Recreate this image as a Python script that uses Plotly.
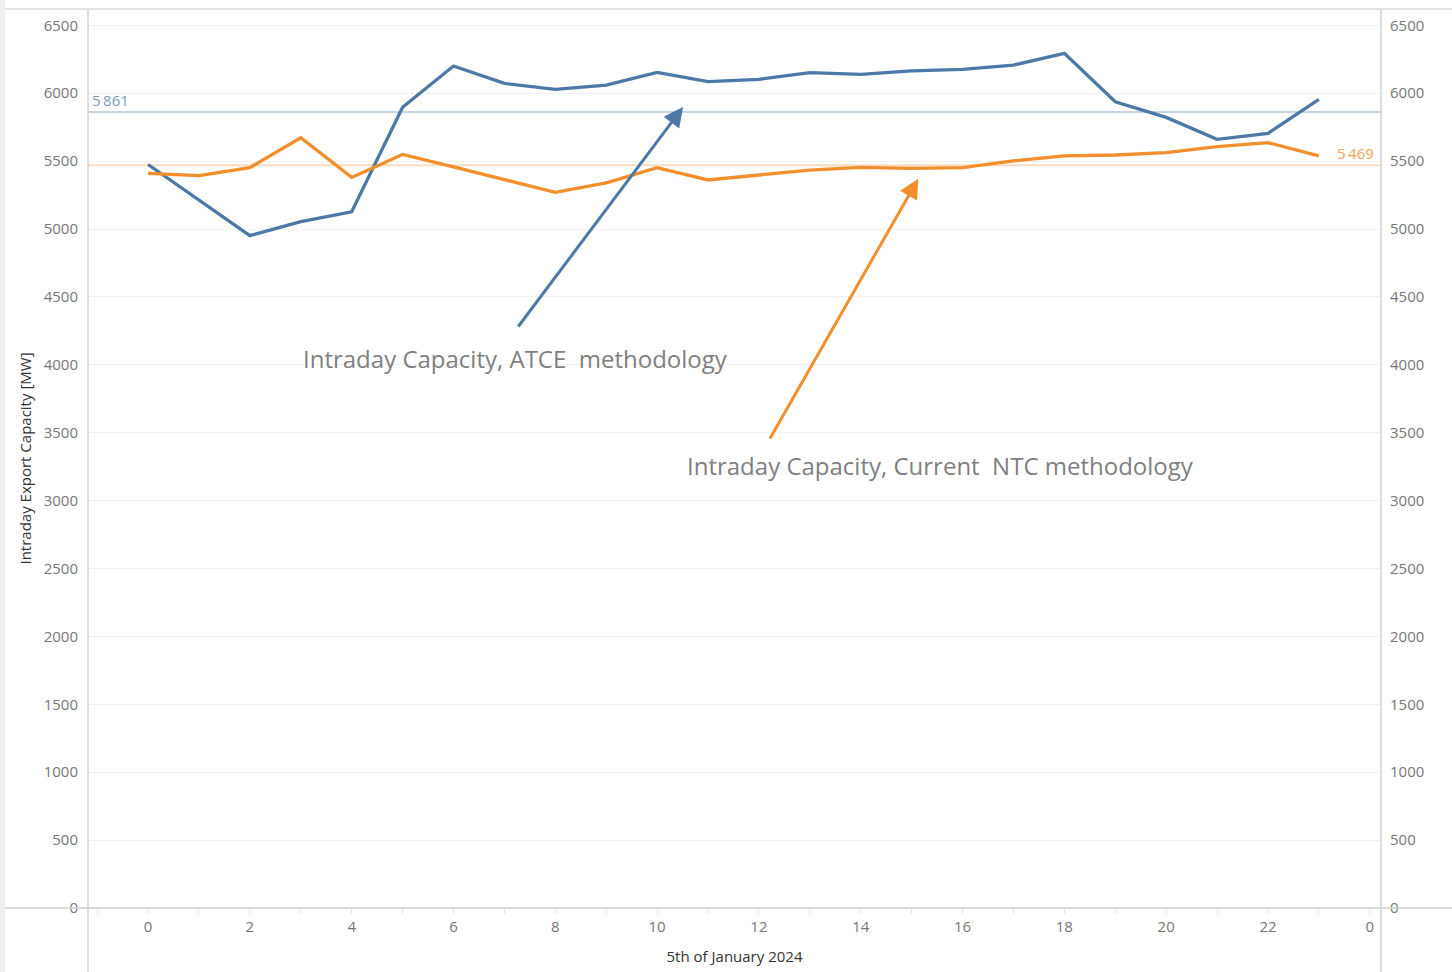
import plotly.graph_objects as go

hours = list(range(24))
atce = [5475, 5215, 4951, 5054, 5127, 5896, 6200, 6072, 6028, 6060, 6153, 6085,
        6102, 6151, 6138, 6165, 6175, 6207, 6293, 5937, 5822, 5660, 5704, 5955]
ntc = [5410, 5393, 5452, 5672, 5380, 5549, 5458, 5361, 5270, 5340, 5452, 5361,
       5398, 5434, 5454, 5446, 5452, 5501, 5538, 5545, 5562, 5606, 5636, 5538]
atce_avg = 5861
ntc_avg = 5469
x_tickvals = list(range(0, 25, 2))
x_ticktext = ["0", "2", "4", "6", "8", "10", "12", "14", "16", "18", "20", "22", "0"]
y_tickvals = list(range(0, 6501, 500))
y_ticktext = [str(v) for v in y_tickvals]

BLUE = "#4e79a7"
ORANGE = "#f28e2b"
TICKC = "#777777"
FONT = "Open Sans"

W, H = 1452, 972
ML, MR, MT, MB = 88, 71, 9, 64
PW, PH = W - ML - MR, H - MT - MB

def px(p):
    return (p - ML) / PW

def py(p):
    return (H - MB - p) / PH

fig = go.Figure()
fig.add_trace(go.Scatter(x=hours, y=atce, mode="lines", line=dict(color=BLUE, width=3.3),
                         name="ATCE", showlegend=False))
fig.add_trace(go.Scatter(x=hours, y=ntc, mode="lines", line=dict(color=ORANGE, width=3.3),
                         name="NTC", showlegend=False))
# invisible trace to activate right axis
fig.add_trace(go.Scatter(x=[hours[0]], y=[atce[0]], yaxis="y2", mode="markers",
                         marker=dict(opacity=0), showlegend=False, hoverinfo="skip"))

shapes = [
    # left gray strip
    dict(type="rect", xref="paper", yref="paper", x0=px(0), x1=px(5), y0=py(H), y1=py(0),
         fillcolor="#efefef", line=dict(width=0), layer="below"),
    # reference lines
    dict(type="line", xref="paper", yref="y", x0=0, x1=1, y0=atce_avg, y1=atce_avg,
         line=dict(color="#c6d4e4", width=2), layer="below"),
    dict(type="line", xref="paper", yref="y", x0=0, x1=1, y0=ntc_avg, y1=ntc_avg,
         line=dict(color="#fcdcbf", width=2), layer="below"),
    # frame lines
    dict(type="line", xref="paper", yref="paper", x0=px(5), x1=px(W), y0=0, y1=0,
         line=dict(color="#d0d0d0", width=1.5)),
    dict(type="line", xref="paper", yref="paper", x0=px(5), x1=px(W), y0=1, y1=1,
         line=dict(color="#d8d8d8", width=1.5)),
    dict(type="line", xref="paper", yref="paper", x0=0, x1=0, y0=py(H), y1=1,
         line=dict(color="#d0d0d0", width=1.5)),
    dict(type="line", xref="paper", yref="paper", x0=1, x1=1, y0=py(H), y1=1,
         line=dict(color="#d0d0d0", width=1.5)),
]

annotations = [
    dict(xref="paper", yref="y", x=px(90), y=atce_avg, text="5\u2009861", showarrow=False,
         xanchor="left", yanchor="bottom", yshift=0,
         font=dict(family=FONT, size=15, color="#7b9ec6")),
    dict(xref="paper", yref="y", x=px(1376), y=ntc_avg, text="5\u2009469", showarrow=False,
         xanchor="right", yanchor="bottom", yshift=0,
         font=dict(family=FONT, size=15, color="#f6a35c")),
    # arrows
    dict(x=10.51, y=5898, ax=7.25, ay=4271, xref="x", yref="y", axref="x", ayref="y",
         text="", showarrow=True, arrowhead=2, arrowsize=1.3, arrowwidth=3,
         arrowcolor=BLUE),
    dict(x=15.13, y=5370, ax=12.2, ay=3446, xref="x", yref="y", axref="x", ayref="y",
         text="", showarrow=True, arrowhead=2, arrowsize=1.3, arrowwidth=3,
         arrowcolor=ORANGE),
    dict(x=7.21, y=4050, xref="x", yref="y", text="Intraday Capacity, ATCE  methodology",
         showarrow=False, font=dict(family=FONT, size=24, color="#7f7f7f")),
    dict(x=15.56, y=3255, xref="x", yref="y",
         text="Intraday Capacity, Current  NTC methodology",
         showarrow=False, font=dict(family=FONT, size=24, color="#7f7f7f")),
]

x0 = -1.18
x1 = 24.22
yr = [0, 6620]

fig.update_layout(
    width=W, height=H,
    margin=dict(l=ML, r=MR, t=MT, b=MB),
    paper_bgcolor="white", plot_bgcolor="white",
    font=dict(family=FONT, color=TICKC, size=15),
    shapes=shapes, annotations=annotations,
    xaxis=dict(range=[x0, x1], tickmode="array", tickvals=x_tickvals, ticktext=x_ticktext,
               showgrid=False, zeroline=False, showline=False,
               ticks="outside", ticklen=5, tickcolor="#e6e6e6",
               minor=dict(dtick=1, tick0=0, ticks="outside", ticklen=5, tickcolor="#e6e6e6"),
               tickfont=dict(family=FONT, size=15, color=TICKC),
               title=dict(text="5th of January 2024", standoff=16,
                          font=dict(family=FONT, size=15, color="#333333"))),
    yaxis=dict(range=yr, tickmode="array", tickvals=y_tickvals, ticktext=y_ticktext,
               showgrid=True, gridcolor="#f2f2f2", gridwidth=1, zeroline=False,
               showline=False, ticks="", ticklabelstandoff=9,
               tickfont=dict(family=FONT, size=15, color=TICKC),
               title=dict(text="Intraday Export Capacity [MW]", standoff=8,
                          font=dict(family=FONT, size=15, color="#333333"))),
    yaxis2=dict(range=yr, overlaying="y", side="right", tickmode="array",
                tickvals=y_tickvals, ticktext=y_ticktext, showgrid=False, zeroline=False,
                showline=False, ticks="", ticklabelstandoff=8,
                tickfont=dict(family=FONT, size=15, color=TICKC)),
)

fig.write_html("out.html", config={"displayModeBar": False},
               post_script="document.body.style.margin='0';document.body.style.overflow='hidden';")
